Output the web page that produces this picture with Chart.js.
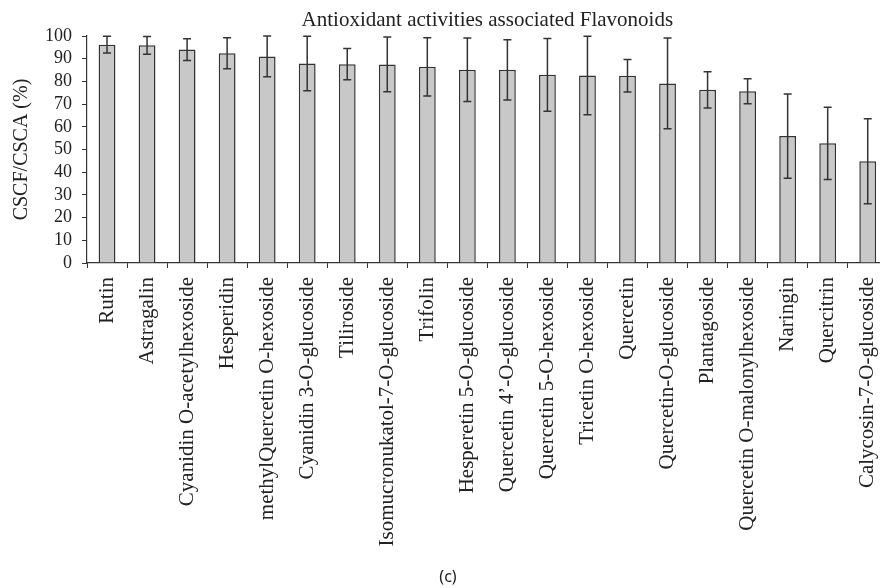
<!DOCTYPE html>
<html>
<head>
<meta charset="utf-8">
<script src="https://cdn.jsdelivr.net/npm/chart.js@4.4.0/dist/chart.umd.min.js"></script>
<style>
  html, body { margin: 0; padding: 0; background: #fff; overflow: hidden; }
  #wrap { width: 902px; height: 588px; }
</style>
</head>
<body>
<div id="wrap"><canvas id="flavo" width="902" height="588"></canvas></div>
<script>
const chartTitle = 'Antioxidant activities associated Flavonoids'
const yTitle = 'CSCF/CSCA (%)'
const panelLabel = '(c)'

const compounds = [
  'Rutin', 'Astragalin', 'Cyanidin O-acetylhexoside', 'Hesperidin',
  'methylQuercetin O-hexoside', 'Cyanidin 3-O-glucoside', 'Tiliroside',
  'Isomucronukatol-7-O-glucoside', 'Trifolin', 'Hesperetin 5-O-glucoside',
  'Quercetin 4’-O-glucoside', 'Quercetin 5-O-hexoside', 'Tricetin O-hexoside',
  'Quercetin', 'Quercetin-O-glucoside', 'Plantagoside',
  'Quercetin O-malonylhexoside', 'Naringin', 'Quercitrin',
  'Calycosin-7-O-glucoside'
]
const activity = [96.2, 95.9, 94.0, 92.4, 91.0, 87.9, 87.6, 87.5, 86.4, 85.1,
                  85.1, 82.9, 82.6, 82.5, 79.1, 76.3, 75.7, 55.9, 52.7, 44.8]
const errors = [3.7, 3.9, 4.8, 6.8, 9.0, 12.0, 6.9, 12.1, 12.8, 14.0,
                13.3, 16.0, 17.3, 7.2, 20.0, 8.0, 5.5, 18.6, 15.9, 18.7]

const serif = "'Liberation Serif', 'Times New Roman', serif"
const ink = '#222'
const lineInk = '#333'

const errorBars = {
  id: 'errorBars',
  afterDatasetsDraw(chart) {
    const ctx = chart.ctx
    const y = chart.scales.y
    const bars = chart.getDatasetMeta(0).data
    ctx.save()
    ctx.strokeStyle = lineInk
    ctx.lineWidth = 1.5
    bars.forEach((bar, i) => {
      const top = y.getPixelForValue(activity[i] + errors[i])
      const bottom = y.getPixelForValue(activity[i] - errors[i])
      ctx.beginPath()
      ctx.moveTo(bar.x, top)
      ctx.lineTo(bar.x, bottom)
      ctx.moveTo(bar.x - 4, top)
      ctx.lineTo(bar.x + 4, top)
      ctx.moveTo(bar.x - 4, bottom)
      ctx.lineTo(bar.x + 4, bottom)
      ctx.stroke()
    })
    ctx.restore()
  }
}

const captions = {
  id: 'captions',
  afterDraw(chart) {
    const { ctx, chartArea } = chart
    ctx.save()
    ctx.fillStyle = ink
    ctx.textAlign = 'center'
    ctx.textBaseline = 'middle'
    ctx.font = '21px ' + serif
    ctx.fillText(chartTitle, (chartArea.left + chartArea.right) / 2, 20)
    ctx.font = "16px 'Noto Sans', sans-serif"
    ctx.fillText(panelLabel, 448, 577)
    ctx.restore()
  }
}

const ctx = document.getElementById('flavo')

const myChart = new Chart(ctx, {
  type: 'bar',
  data: {
    labels: compounds,
    datasets: [{
      data: activity,
      backgroundColor: '#c8c8c8',
      borderColor: lineInk,
      borderWidth: 1.5,
      barPercentage: 0.42,
      categoryPercentage: 1
    }]
  },
  options: {
    responsive: false,
    animation: false,
    devicePixelRatio: 1,
    layout: { padding: { top: 36, right: 3, left: 0, bottom: 0 } },
    plugins: {
      legend: { display: false },
      title: { display: false },
      tooltip: { enabled: false }
    },
    scales: {
      x: {
        grid: { drawOnChartArea: false, tickLength: 5, color: lineInk, offset: true },
        border: { color: lineInk, width: 1.2 },
        ticks: {
          color: ink,
          font: { family: serif, size: 21 },
          minRotation: 90,
          maxRotation: 90,
          autoSkip: false,
          padding: 9
        },
        afterFit: (s) => { s.height = 325 }
      },
      y: {
        min: 0,
        max: 100,
        ticks: { stepSize: 10, autoSkip: false, color: ink, font: { family: serif, size: 18 }, padding: 10 },
        grid: { drawOnChartArea: false, tickLength: 5, color: lineInk },
        border: { color: lineInk, width: 1.2 },
        title: {
          display: true,
          text: yTitle,
          color: ink,
          font: { family: serif, size: 20 },
          padding: { top: 10, bottom: 0 }
        },
        afterFit: (s) => { s.width = 87 }
      }
    }
  },
  plugins: [errorBars, captions]
})
</script>
</body>
</html>
